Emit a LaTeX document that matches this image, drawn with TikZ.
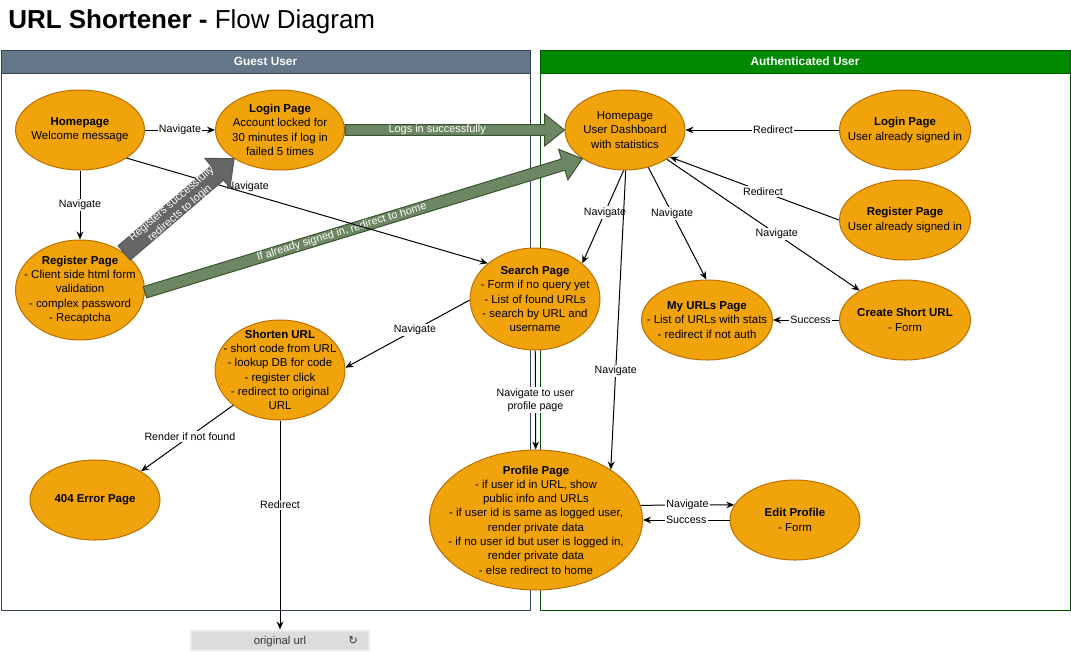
\documentclass[tikz,border=0pt]{standalone}
\usepackage{fontspec}
\setmainfont{Liberation Sans}
\newfontfamily\dejavu{DejaVu Sans}
\usetikzlibrary{shapes.geometric}
\usetikzlibrary{arrows.meta}
\usetikzlibrary{calc}

\definecolor{pagefill}{HTML}{F0A30A}
\definecolor{pageline}{HTML}{BD7000}
\definecolor{guestfill}{HTML}{647687}
\definecolor{guestline}{HTML}{314354}
\definecolor{authfill}{HTML}{008A00}
\definecolor{authline}{HTML}{005700}
\definecolor{okfill}{HTML}{6D8764}
\definecolor{okline}{HTML}{3A5431}
\definecolor{regfill}{HTML}{666666}
\definecolor{regline}{HTML}{555555}
\definecolor{urlbar}{HTML}{DCDCDC}
\definecolor{urlrim}{HTML}{E9E9E9}

\tikzset{
  page/.style 2 args={ellipse, draw=pageline, fill=pagefill, line width=0.75pt,
    minimum width=#1*0.75pt, minimum height=#2*0.75pt, inner sep=0pt},
  pagetext/.style={align=center, inner sep=0pt, font=\fontsize{8.6}{10.7}\selectfont},
  poolhead/.style={text=white, font=\fontsize{8.9}{10}\selectfont\bfseries},
  link/.style={draw, line width=0.75pt, -{Stealth[length=6pt,width=5pt]}},
  linklabel/.style={fill=white, inner sep=1pt, align=center, font=\fontsize{8}{9.6}\selectfont},
  flexlabel/.style={text=white, inner sep=0pt, align=center, font=\fontsize{8.2}{9.4}\selectfont},
  okarrow/.style={fill=okfill, draw=okline, line width=0.75pt},
  regarrow/.style={fill=regfill, draw=regline, line width=0.75pt}
}

% wide arrow: style, from, to, half shaft, half head, head length
\newcommand{\flexarrow}[6]{%
  \coordinate (fa-h) at ($(#3)!#6!(#2)$);
  \filldraw[#1] ($(#2)!#4!90:(#3)$) -- ($(fa-h)!#4!90:(#3)$) -- ($(fa-h)!#5!90:(#3)$) -- (#3)
    -- ($(fa-h)!#5!-90:(#3)$) -- ($(fa-h)!#4!-90:(#3)$) -- ($(#2)!#4!-90:(#3)$) -- cycle;
}

\begin{document}
\begin{tikzpicture}[x=0.75pt, y=-0.75pt]
\useasboundingbox (0,0) rectangle (1071,651);

\node[anchor=base west, inner sep=0pt, font=\fontsize{19.5}{22}\selectfont] (title) at (8,28) {\textbf{URL Shortener -} Flow Diagram};

% swimlanes
\draw[guestline, line width=0.75pt] (1,50) rectangle (530,610);
\filldraw[fill=guestfill, draw=guestline, line width=0.75pt] (1,50) rectangle (530,73);
\node[poolhead] (guestHead) at (265.5,61.5) {Guest User};
\draw[authline, line width=0.75pt] (540,50) rectangle (1070,610);
\filldraw[fill=authfill, draw=authline, line width=0.75pt] (540,50) rectangle (1070,73);
\node[poolhead] (authHead) at (805,61.5) {Authenticated User};

% guest pages
\node[page={129}{80}, label={[pagetext]center:{\textbf{Homepage}\\Welcome message}}] (homeG) at (80,130) {};
\node[page={129}{80}, label={[pagetext]center:{\textbf{Login Page}\\Account locked for\\30 minutes if log in\\failed 5 times}}] (loginG) at (280,130) {};
\node[page={129}{100}, label={[pagetext]center:{\textbf{Register Page}\\- Client side html form\\validation\\- complex password\\- Recaptcha}}] (registerG) at (80,290) {};
\node[page={130}{102}, label={[pagetext]center:{\textbf{Search Page}\\- Form if no query yet\\- List of found URLs\\- search by URL and\\username}}] (search) at (535,299) {};
\node[page={130}{100}, label={[pagetext]center:{\textbf{Shorten URL}\\- short code from URL\\- lookup DB for code\\- register click\\- redirect to original\\URL}}] (shorten) at (280,370) {};
\node[page={130}{80}, label={[pagetext]center:{\textbf{404 Error Page}}}] (notFound) at (95,500) {};
\node[page={213}{140}, label={[pagetext]center:{\textbf{Profile Page}\\- if user id in URL, show\\public info and URLs\\- if user id is same as logged user,\\render private data\\- if no user id but user is logged in,\\render private data\\- else redirect to home}}] (profile) at (536,520) {};

% authenticated pages
\node[page={120}{80}, label={[pagetext]center:{Homepage\\User Dashboard\\with statistics}}] (homeA) at (625,130) {};
\node[page={131}{80}, label={[pagetext]center:{\textbf{Login Page}\\User already signed in}}] (loginA) at (905,130) {};
\node[page={131}{80}, label={[pagetext]center:{\textbf{Register Page}\\User already signed in}}] (registerA) at (905,220) {};
\node[page={131}{80}, label={[pagetext]center:{\textbf{Create Short URL}\\- Form}}] (create) at (905,320) {};
\node[page={131}{80}, label={[pagetext]center:{\textbf{My URLs Page}\\- List of URLs with stats\\- redirect if not auth}}] (myurls) at (707,320) {};
\node[page={130}{80}, label={[pagetext]center:{\textbf{Edit Profile}\\- Form}}] (editP) at (795,520) {};

% browser bar
\node[fill=urlbar, draw=urlrim, line width=1.5pt, minimum width=178*0.75pt, minimum height=19*0.75pt,
  inner sep=0pt, text depth=0pt, text=black!80, font=\fontsize{8.5}{9}\selectfont] (browser) at (280,640) {original url};
\node[inner sep=0pt, text depth=0pt, text=black!80, font=\dejavu\fontsize{8.5}{9}\selectfont] (reload) at (353,640.5) {↻};

% green wide arrows
\flexarrow{okarrow}{loginG.east}{homeA.west}{4.1pt}{12pt}{15pt}
\path (loginG.east) -- node[flexlabel, pos=.42] {Logs in successfully} (homeA.west);
\flexarrow{okarrow}{registerG.-2}{homeA.214}{4.4pt}{12pt}{15pt}
\path (registerG.-2) -- node[flexlabel, sloped, pos=.45] {If already signed in, redirect to home} (homeA.214);

% guest flow
\draw[link] (homeG) -- node[linklabel] {Navigate} (loginG);
\draw[link] (homeG) -- node[linklabel] {Navigate} (registerG);
\draw[link] (homeG.-31) -- node[linklabel, fill=none, pos=.335, above] {Navigate} (search.143);
\draw[link] (search.181) -- node[linklabel, pos=.44] {Navigate} (shorten.2);
\draw[link] (shorten.217) -- node[linklabel, pos=.47] {Render if not found} (notFound.32);
\draw[link] (shorten) -- node[linklabel, pos=.405] {Redirect} (browser);
\draw[link] (search) -- node[linklabel] {Navigate to user\\profile page} (profile);

% gray wide arrow on top
\flexarrow{regarrow}{registerG.40}{loginG.212}{7pt}{14.5pt}{16.5pt}
\path (registerG.40) -- node[flexlabel, sloped, pos=.47] {Registers successfully\\redirects to login} (loginG.212);

% authenticated flow
\draw[link] (loginA) -- node[linklabel, pos=.43] {Redirect} (homeA);
\draw[link] (registerA.west) -- node[linklabel, pos=.45] {Redirect} (homeA.-31);
\draw[link] (homeA.-35) -- node[linklabel, pos=.57] {Navigate} (create.147);
\draw[link] (homeA.-92) -- node[linklabel, pos=.45] {Navigate} (search.37);
\draw[link] (homeA.-58) -- node[linklabel, pos=.41] {Navigate} (myurls.91);
\draw[link] (homeA.-89) -- node[linklabel, pos=.67] {Navigate} (profile.34);
\draw[link] (create) -- node[linklabel, pos=.43] {Success} (myurls);
\draw[link] (profile.8) -- node[linklabel] {Navigate} (editP.166);
\draw[link] (editP) -- node[linklabel] {Success} (profile);

\end{tikzpicture}
\end{document}
